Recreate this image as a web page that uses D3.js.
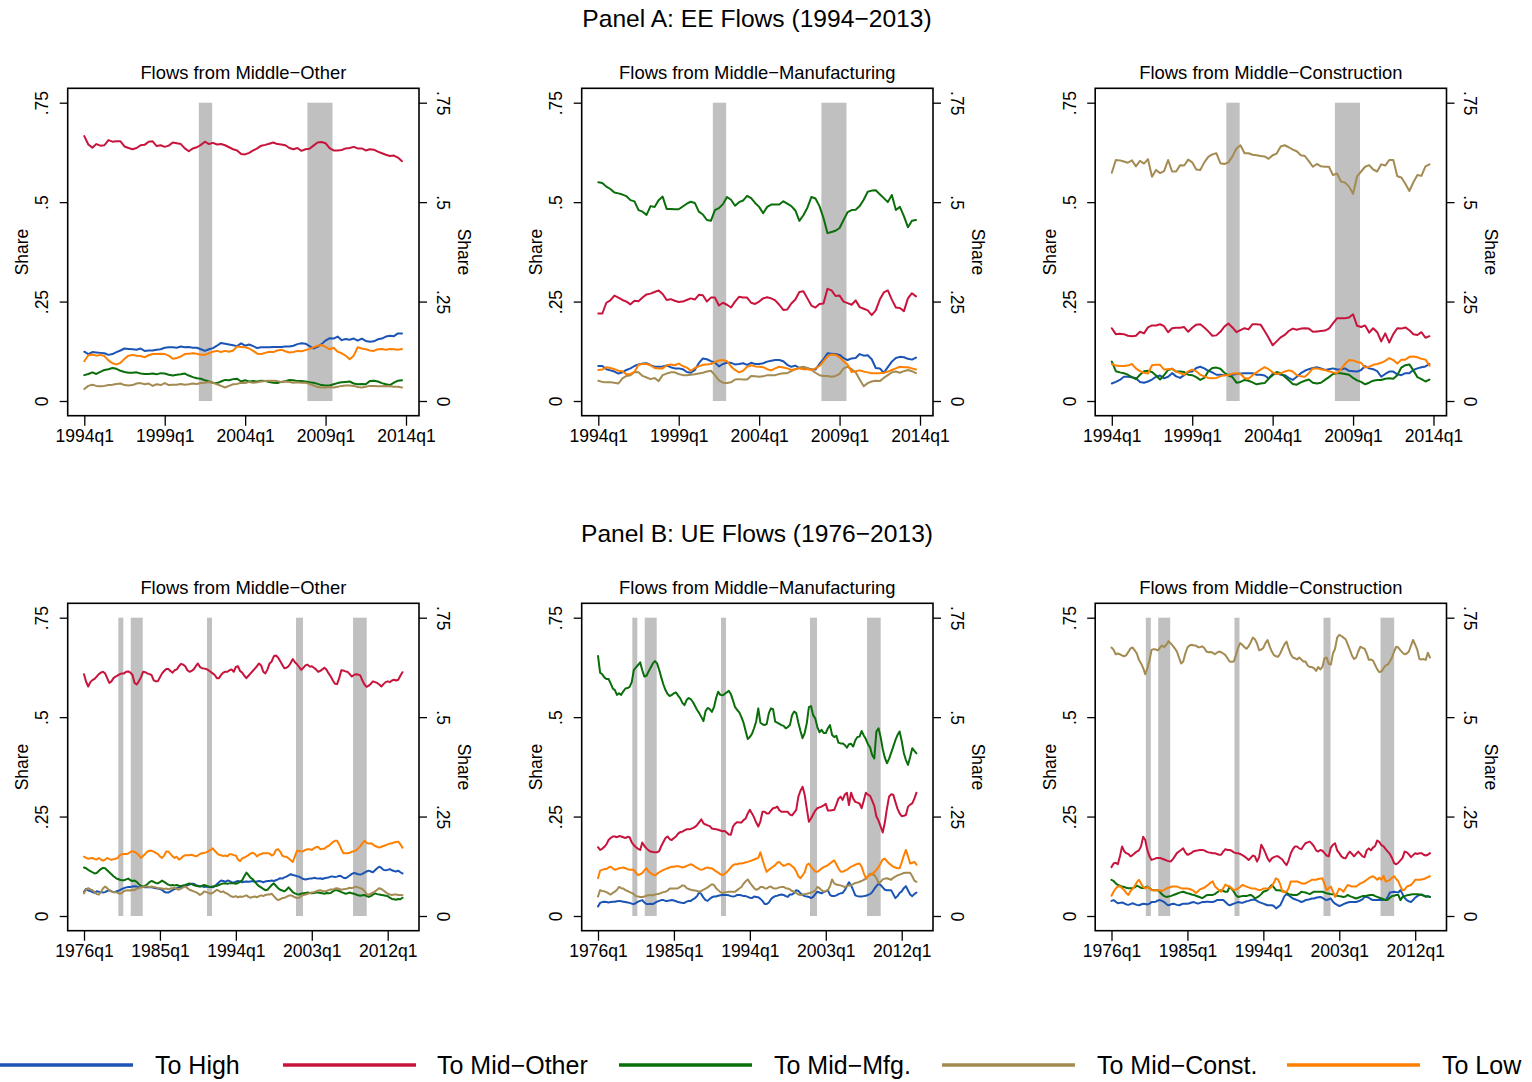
<!DOCTYPE html>
<html><head><meta charset="utf-8">
<script src="https://cdn.jsdelivr.net/npm/d3@7"></script>
<style>
body{margin:0;background:#fff}
svg{display:block}
text{font-family:"Liberation Sans",Arial,Helvetica,sans-serif;fill:#000}
</style>
</head><body>
<svg id="chart" width="1532" height="1082"></svg>
<script>
// ---------- labels ----------
const seriesNames = ["To High","To Mid\u2212Other","To Mid\u2212Mfg.","To Mid\u2212Const.","To Low"];
const seriesColors = ["#1a54b4","#c8143c","#0a6e0a","#a38b52","#ff8000"];
const panelTitles = ["Panel A: EE Flows (1994\u22122013)","Panel B: UE Flows (1976\u22122013)"];
const subTitles = ["Flows from Middle\u2212Other","Flows from Middle\u2212Manufacturing","Flows from Middle\u2212Construction"];
const yTicks = [0, 0.25, 0.5, 0.75];
const yTickLabels = ["0", ".25", ".5", ".75"];
const xTicksA = [1994, 1999, 2004, 2009, 2014];
const xTickLabelsA = ["1994q1","1999q1","2004q1","2009q1","2014q1"];
const xTicksB = [1976, 1985, 1994, 2003, 2012];
const xTickLabelsB = ["1976q1","1985q1","1994q1","2003q1","2012q1"];
const startA = 1994, startB = 1976;
const recessionsA = [[2001.12,2001.95],[2007.87,2009.43]];
const recessionsB = [[1980.07,1980.66],[1981.54,1982.96],[1990.58,1991.17],[2001.13,2001.96],[2007.89,2009.51]];

// ---------- Panel A data (percent, quarterly 1994q1-2013q4) ----------
const eeOtherHigh = [12.4,11.8,12.3,12.2,12.1,12.0,11.6,11.8,12.3,12.7,13.2,13.1,13.0,12.9,13.2,12.6,12.7,12.7,12.9,13.0,13.4,13.5,13.5,13.4,13.7,13.5,13.6,13.4,13.4,13.0,12.6,13.0,13.3,13.9,14.6,14.4,14.2,14.0,13.8,14.5,13.9,14.2,13.8,13.3,13.5,13.5,13.5,13.6,13.6,13.6,13.7,13.7,13.9,14.3,14.5,14.4,13.8,13.2,13.6,14.3,15.2,15.8,15.7,16.2,15.3,15.6,15.4,15.7,15.2,15.7,15.1,14.9,15.0,15.5,15.7,16.2,16.4,16.3,17.0,17.0];
const eeOtherMidOther = [66.6,64.5,63.7,64.6,64.2,64.3,65.6,65.2,65.3,65.3,64.0,63.6,63.3,63.6,64.3,64.4,65.2,65.3,64.1,64.3,63.9,64.2,65.0,64.8,64.6,63.5,62.8,63.5,63.8,64.4,65.2,64.6,64.9,64.5,64.6,64.3,63.8,63.3,63.0,62.1,62.0,62.4,63.0,63.5,64.2,64.4,64.7,65.0,64.6,64.5,64.3,63.6,63.3,63.6,62.9,63.3,63.4,64.2,65.0,65.1,64.8,63.6,63.0,63.0,63.1,63.5,63.6,63.9,63.5,63.5,63.0,63.3,63.2,62.7,62.3,61.9,61.6,61.7,61.2,60.3];
const eeOtherMidMfg = [6.5,6.8,7.2,6.8,7.3,7.8,8.0,8.3,8.1,7.6,7.3,7.1,7.1,7.2,6.9,6.8,6.8,6.9,6.7,7.0,6.9,6.6,6.4,6.6,6.7,6.9,6.4,6.0,5.7,5.6,5.2,4.9,4.6,4.5,4.9,5.3,5.2,5.5,5.6,4.9,5.2,4.9,5.0,4.9,5.1,5.0,4.8,4.6,4.5,4.8,5.0,5.3,5.2,5.0,5.0,4.9,4.7,4.6,4.3,4.0,3.9,3.9,4.2,4.5,4.7,4.8,4.9,4.4,4.2,4.3,4.2,5.0,5.1,4.9,4.5,4.2,4.0,4.6,5.1,5.2];
const eeOtherMidConst = [3.0,3.8,4.1,3.8,3.7,3.8,4.0,4.1,4.3,4.4,4.0,3.9,4.0,4.4,4.5,4.2,4.4,3.8,4.2,4.0,4.5,4.0,4.1,4.1,4.3,4.1,4.2,4.4,4.3,4.5,4.6,4.8,4.6,4.2,3.8,3.4,3.8,4.2,4.3,4.6,4.5,4.8,4.6,4.7,4.9,5.0,5.1,5.1,5.0,4.8,4.9,4.8,4.6,4.7,4.6,4.6,4.3,3.9,3.5,3.4,3.4,3.5,3.4,3.6,3.8,3.9,3.9,3.8,3.5,3.4,3.6,3.8,3.8,3.7,3.7,3.8,3.7,3.6,3.6,3.4];
const eeOtherLow = [10.0,11.5,11.7,11.4,11.6,11.3,10.2,9.5,9.2,9.6,10.6,11.4,11.6,11.4,11.3,11.0,11.5,11.8,11.8,11.9,11.8,11.4,10.6,10.8,11.2,11.8,11.9,12.0,11.9,11.6,11.6,12.0,12.4,12.6,12.3,12.6,12.4,12.7,13.7,13.6,13.5,13.2,12.6,11.9,11.8,12.1,12.4,12.3,12.7,12.9,12.5,12.2,12.3,12.6,12.5,12.8,13.1,13.5,13.9,14.1,13.6,13.0,13.4,12.4,12.0,11.4,10.5,11.4,13.5,13.2,13.0,12.7,12.6,13.0,13.1,12.9,13.1,13.0,12.9,13.1];

const eeMfgHigh = [8.8,8.8,8.0,7.7,7.4,6.9,7.2,7.8,8.2,8.8,9.2,9.4,9.5,9.0,8.6,8.6,8.7,8.9,8.5,8.2,8.2,8.0,7.3,7.1,7.8,9.5,10.7,10.5,10.0,9.7,8.7,9.3,9.6,9.6,9.2,9.3,9.5,9.1,9.6,9.3,9.3,9.5,9.9,10.1,10.3,10.3,10.0,9.1,8.6,8.9,8.3,8.2,8.2,8.0,7.9,9.3,10.5,12.0,11.9,11.8,11.6,10.8,10.3,10.7,10.8,11.8,11.4,11.5,10.5,8.3,8.2,7.1,8.5,9.9,10.8,11.1,11.0,10.6,10.4,10.9];
const eeMfgMidOther = [22.0,22.0,24.7,25.3,26.5,26.0,25.4,25.0,24.3,25.2,25.1,26.0,26.8,27.0,27.4,27.8,26.9,25.4,25.6,25.2,24.9,25.0,25.4,25.8,25.5,26.7,26.6,25.0,26.0,26.0,24.0,24.7,24.2,23.5,25.0,26.2,26.0,26.0,24.7,24.4,25.0,25.8,26.1,25.8,25.3,24.2,22.9,23.0,24.5,25.5,27.4,27.6,25.8,24.0,23.5,24.4,24.5,28.2,27.8,26.4,26.5,25.0,24.6,24.2,25.3,23.6,23.2,22.8,21.6,22.8,25.5,27.3,27.8,25.5,23.5,23.4,22.6,25.8,27.1,26.3];
const eeMfgMidMfg = [55.0,54.8,53.9,53.3,52.4,52.2,51.9,51.5,50.5,50.2,48.0,47.6,46.8,49.0,48.8,50.5,51.4,48.3,48.3,48.2,48.2,48.9,49.6,50.1,49.8,47.6,46.9,45.5,45.3,48.0,48.5,49.5,51.3,50.6,49.1,50.0,50.4,51.6,51.0,49.8,48.8,47.2,48.8,49.4,49.4,49.4,50.2,49.6,49.0,47.9,45.3,46.7,48.6,51.3,50.9,49.0,46.0,42.2,42.5,42.8,43.5,45.5,47.5,48.0,48.1,49.0,50.6,52.6,52.9,53.0,52.0,51.0,50.0,51.8,48.0,48.8,46.5,43.7,45.3,45.5];
const eeMfgMidConst = [5.1,4.8,4.7,4.7,4.6,4.4,5.7,6.3,6.5,7.3,7.2,6.3,5.9,5.5,5.8,5.0,6.5,6.9,7.2,7.2,6.8,6.5,6.5,6.6,6.7,6.9,7.1,7.4,7.6,6.5,5.2,4.6,4.5,4.7,5.4,5.5,5.4,5.4,6.3,6.2,6.1,6.2,6.5,6.5,6.5,6.8,7.0,7.0,7.5,8.0,8.4,8.6,8.3,7.8,7.1,6.5,6.3,6.3,6.1,6.3,6.8,8.2,8.6,8.0,7.2,5.4,3.7,4.5,4.9,5.1,5.0,5.8,6.5,7.2,7.4,7.1,7.5,7.8,7.5,7.0];
const eeMfgLow = [7.8,7.9,8.5,8.3,8.0,7.6,7.5,6.7,6.8,7.3,9.1,9.3,9.3,9.0,8.3,8.2,8.2,9.0,9.2,9.0,9.4,8.8,8.4,7.6,8.3,8.7,9.1,9.2,9.3,9.8,10.2,10.3,10.0,8.7,7.8,7.2,7.6,8.6,9.0,8.7,8.6,8.5,8.0,7.7,8.2,8.6,8.4,8.2,7.8,8.0,8.2,8.0,8.0,7.8,8.2,8.8,10.0,11.2,11.7,11.6,11.0,10.0,9.1,7.3,7.5,7.7,7.4,7.2,7.0,7.0,7.0,7.1,7.4,7.8,8.2,8.6,8.5,8.5,8.2,7.9];

const eeConHigh = [4.4,4.8,5.3,6.1,6.1,6.0,5.7,4.8,4.6,4.9,5.4,6.1,6.4,5.7,6.1,7.0,6.2,5.8,6.5,7.3,7.4,8.3,8.6,8.2,7.6,7.2,6.6,6.6,6.5,6.6,6.6,6.8,6.9,7.0,7.0,7.0,6.6,6.6,6.4,5.7,6.8,7.0,6.6,6.5,5.8,5.3,6.1,7.0,7.6,8.0,8.3,8.5,8.2,7.8,8.0,8.2,7.9,7.9,8.2,7.6,7.5,7.4,7.8,8.8,8.2,8.0,7.5,6.1,6.8,7.4,7.4,6.7,6.5,7.0,7.0,7.8,8.2,8.5,8.7,9.3];
const eeConMidOther = [18.3,16.8,16.9,16.8,16.4,16.3,16.4,17.4,17.0,18.5,19.0,19.0,19.3,18.8,17.3,18.3,18.4,18.4,18.6,17.4,18.4,19.2,19.3,18.5,17.5,16.4,16.5,17.4,18.7,19.5,18.5,17.3,17.8,18.3,18.0,19.3,19.3,19.2,17.6,15.9,14.0,15.0,16.0,16.6,17.6,18.2,17.9,18.2,18.3,18.2,17.4,17.5,17.6,17.7,18.2,19.5,20.8,20.8,20.8,21.0,21.8,18.9,18.6,19.0,17.2,18.3,17.3,15.0,17.0,14.7,16.8,18.3,18.2,18.5,17.8,16.8,16.6,17.3,15.9,16.3];
const eeConMidMfg = [9.9,7.5,7.2,7.0,6.6,6.0,5.5,6.6,7.5,7.6,7.3,6.4,5.4,6.5,7.8,8.1,7.4,7.4,7.3,6.6,6.5,6.0,5.3,5.8,7.5,8.3,8.4,8.1,7.1,6.4,6.0,4.6,4.8,5.3,5.1,4.7,4.2,4.4,4.5,5.6,6.5,7.3,7.0,6.1,5.2,4.3,4.1,4.7,5.1,5.4,4.6,4.4,4.6,5.3,6.0,6.8,7.0,7.0,6.8,6.6,5.8,5.2,4.8,4.2,4.6,5.1,5.3,5.3,5.6,5.7,5.6,6.5,8.4,9.0,9.2,7.7,6.0,5.5,4.9,5.4];
const eeConMidConst = [57.4,60.6,60.5,60.2,59.9,60.5,59.0,60.4,59.7,60.8,56.4,58.1,57.3,57.8,60.6,57.7,57.7,59.3,59.2,60.7,60.0,58.2,58.1,60.0,61.4,62.0,62.3,59.8,59.6,60.0,61.5,63.5,64.3,62.3,62.3,61.9,61.8,61.6,61.5,60.9,61.8,62.2,64.0,64.3,63.8,63.2,62.8,61.8,61.6,60.3,58.9,59.6,59.0,58.9,58.9,56.8,57.2,55.2,54.9,53.9,52.1,56.5,57.7,58.9,59.3,58.2,57.7,59.5,59.2,60.6,60.6,56.5,56.2,54.6,52.8,55.0,56.8,56.6,59.0,59.5];
const eeConLow = [9.3,8.9,8.8,8.8,8.9,9.3,8.2,7.5,7.1,6.9,9.0,9.1,9.1,7.9,8.0,8.1,7.4,7.0,6.6,7.5,7.9,7.5,6.6,6.2,5.8,5.7,5.8,6.2,6.5,6.5,6.9,7.0,6.8,5.8,5.6,6.5,7.2,7.9,8.5,8.0,7.2,6.8,7.0,7.4,7.7,7.4,6.5,6.2,6.1,7.0,8.2,8.2,8.0,7.8,7.5,7.2,7.0,8.0,9.3,10.3,10.2,9.8,9.6,8.4,8.6,9.1,9.3,9.6,10.1,10.8,10.3,9.4,10.4,10.4,11.1,11.2,11.0,10.6,10.4,8.9];

// ---------- Panel B data (percent, quarterly 1976q1-2013q4) ----------
const ueOtherHigh = [6.1,6.8,6.4,6.3,6.0,5.8,6.2,6.1,6.0,5.9,6.0,6.3,6.5,6.2,6.0,6.1,6.3,6.5,6.8,7.0,7.2,7.3,7.3,7.4,7.5,7.4,7.2,7.3,7.3,7.2,7.3,7.2,7.2,7.1,7.0,6.9,6.8,6.6,6.1,5.9,5.9,6.2,6.5,6.8,7.0,7.2,7.3,7.5,7.6,7.7,7.9,8.1,8.1,7.8,7.6,7.5,7.5,7.3,7.4,7.3,7.3,7.2,7.5,8.0,8.5,8.9,8.8,8.6,8.9,8.8,8.5,8.4,8.6,8.8,8.7,8.5,8.6,8.7,8.6,8.7,8.8,8.6,8.7,8.8,8.7,8.5,8.7,8.8,8.8,8.9,8.8,9.0,9.2,9.5,9.4,9.7,9.9,10.2,10.5,10.3,10.2,10.0,9.9,9.6,9.3,9.2,9.3,9.4,9.4,9.6,9.5,9.4,9.5,9.3,9.5,9.6,9.7,9.9,9.9,9.8,9.9,10.1,10.0,9.6,9.5,9.8,10.2,10.6,10.8,10.7,10.5,10.4,10.6,10.9,11.2,11.4,11.2,11.0,11.5,12.0,12.4,12.1,11.6,11.5,11.6,11.8,11.5,11.3,11.2,11.4,11.0,10.7];
const ueOtherMidOther = [60.8,58.9,57.7,58.8,59.3,59.6,60.2,60.8,61.2,61.4,61.0,59.8,58.6,59.0,59.8,60.2,60.5,60.8,61.0,61.0,61.4,61.5,61.2,60.6,58.6,58.2,59.0,60.0,61.4,61.3,61.0,60.8,60.6,59.3,59.0,59.0,60.0,61.0,61.6,62.1,62.1,61.6,61.2,61.8,62.0,62.8,63.4,63.2,62.8,61.8,61.4,61.6,62.0,62.8,63.5,62.6,62.3,62.2,62.1,61.8,61.4,61.0,60.6,59.8,59.8,60.6,61.2,61.4,61.4,61.8,62.0,61.4,62.6,62.8,61.6,61.2,60.4,59.8,60.4,61.0,61.6,62.2,62.8,63.5,63.0,61.4,61.0,62.0,63.5,64.0,65.3,65.5,65.0,64.1,63.2,62.3,62.4,62.8,63.6,64.6,63.8,63.3,62.6,61.9,62.4,63.0,63.2,62.7,62.8,62.4,62.0,61.4,61.6,62.0,62.4,61.9,61.0,60.2,59.2,58.4,58.3,59.8,61.8,61.7,61.5,61.4,60.8,60.2,60.6,60.8,60.7,60.5,59.2,58.2,57.6,57.9,58.4,59.0,58.8,58.6,58.2,57.7,58.3,58.8,59.0,58.8,59.2,59.4,59.2,59.4,60.4,61.3];
const ueOtherMidMfg = [12.2,12.0,11.6,11.3,11.0,10.7,10.8,11.3,11.8,12.1,12.0,11.5,11.0,10.5,10.0,9.6,9.3,9.1,9.0,9.0,9.2,9.4,9.0,8.8,8.9,8.6,8.0,7.6,7.4,7.6,8.0,8.5,8.8,8.6,8.3,8.2,8.5,8.9,8.6,8.2,7.9,7.7,7.8,7.7,7.8,7.6,7.5,7.7,7.8,8.0,8.2,8.0,7.8,7.6,7.5,7.4,7.6,7.8,7.6,7.4,7.3,7.4,7.5,7.6,7.8,8.0,8.2,8.2,8.1,8.2,8.3,8.2,8.1,8.3,8.6,9.0,10.0,10.9,10.3,9.6,9.3,8.6,8.0,7.5,7.2,6.8,6.5,6.6,7.2,7.8,8.2,7.6,7.0,6.6,6.4,6.2,6.6,7.2,6.6,6.0,5.7,5.5,5.4,5.6,5.7,5.8,5.9,5.8,5.7,5.8,5.9,5.9,5.8,5.7,5.6,5.8,5.7,5.8,6.2,6.5,6.5,6.3,6.0,5.8,5.6,5.7,5.9,5.7,5.6,5.4,5.2,5.1,5.2,5.3,5.0,4.8,5.0,5.4,5.7,5.5,5.4,5.3,5.2,5.1,5.0,4.6,4.3,4.2,4.1,4.3,4.2,4.6];
const ueOtherMidConst = [5.7,6.6,7.0,6.7,6.5,6.0,5.5,5.4,6.0,6.9,7.4,7.0,6.5,6.2,6.0,6.0,5.8,5.6,5.8,6.3,6.4,6.5,6.4,6.6,6.5,6.9,7.0,7.2,7.3,7.4,7.4,7.3,7.4,7.3,7.2,7.0,7.0,6.9,6.8,6.9,6.7,6.9,7.0,7.1,6.8,6.6,6.9,7.2,7.4,7.0,6.6,6.4,6.2,6.0,5.7,5.3,5.6,6.2,6.0,5.8,5.6,5.8,6.2,6.6,6.3,6.0,6.2,5.8,5.6,5.2,4.9,4.8,5.0,4.7,4.9,4.8,5.0,5.2,4.8,4.6,4.8,4.9,4.7,5.0,5.2,5.0,5.3,5.4,5.4,5.6,5.0,4.4,4.0,4.2,4.5,4.6,4.8,5.1,5.2,5.0,4.7,4.5,4.6,5.0,5.3,5.4,5.6,5.7,5.9,6.0,6.2,6.4,6.5,6.3,6.2,6.3,6.5,6.7,6.6,6.9,7.0,6.8,6.6,6.7,6.8,6.9,7.1,7.0,7.2,7.4,7.2,7.0,6.8,6.3,5.5,5.3,5.6,5.9,6.2,6.6,7.0,6.8,6.4,6.0,5.6,5.4,5.3,5.4,5.4,5.3,5.3,5.2];
const ueOtherLow = [14.9,14.6,14.4,14.5,14.6,14.3,14.2,14.6,14.2,13.9,14.2,14.6,14.3,14.1,14.3,14.4,14.6,15.3,15.5,15.6,15.6,15.7,16.1,16.3,16.1,15.8,15.3,14.6,15.1,15.6,16.2,16.4,16.4,16.2,15.9,15.6,15.0,14.6,15.2,16.2,16.2,15.6,15.0,14.6,14.9,14.2,14.5,15.0,15.3,15.3,15.3,15.4,15.2,15.0,15.2,15.6,15.8,15.9,16.0,16.3,16.6,17.0,16.4,15.8,15.4,15.3,15.1,15.2,15.0,15.5,15.5,15.3,15.2,14.2,13.8,14.5,14.7,15.0,15.3,15.7,15.9,15.6,15.0,15.4,15.6,15.8,15.8,15.8,15.7,15.2,15.5,16.6,16.8,16.2,15.2,14.9,14.9,14.5,14.0,13.6,15.0,16.4,16.4,16.2,16.3,16.6,16.8,16.8,16.6,17.0,17.3,17.4,16.8,16.9,16.9,17.4,17.6,18.1,18.6,18.9,18.9,18.0,16.8,15.8,15.8,15.8,15.9,16.2,16.3,16.5,17.0,17.5,18.3,18.9,18.4,18.2,18.3,18.0,17.6,17.4,17.2,17.4,17.6,17.8,18.0,18.2,18.3,18.5,18.6,18.7,18.0,17.2];

const ueMfgHigh = [2.4,3.3,3.5,3.6,3.5,3.4,3.5,3.6,3.6,3.7,3.8,3.7,3.6,3.5,3.4,3.3,3.1,3.0,3.3,3.6,3.8,4.0,3.4,3.0,3.0,3.1,3.0,3.3,3.6,3.8,4.0,4.0,3.8,3.8,3.9,4.0,3.9,3.7,3.5,3.4,3.3,3.3,3.6,3.8,3.8,4.2,4.5,5.0,6.0,5.5,4.6,4.0,3.8,4.3,4.7,4.9,4.9,5.1,5.2,5.3,5.3,5.3,5.2,5.0,4.9,5.0,5.3,5.3,5.2,5.0,5.0,4.8,4.6,4.5,4.9,4.8,4.7,4.3,3.8,3.0,3.0,3.4,4.2,4.7,5.0,5.1,5.3,5.4,5.3,5.0,4.8,5.4,5.4,5.8,6.5,6.3,5.7,5.3,5.0,4.9,4.8,4.5,4.8,5.5,6.1,5.9,5.7,6.0,6.2,6.5,5.3,5.0,5.0,5.2,5.5,5.7,5.8,6.5,7.5,8.5,7.7,6.5,5.2,5.0,4.9,4.9,5.0,5.1,5.3,5.5,6.0,6.8,7.5,8.1,7.8,7.2,6.6,6.5,6.5,6.5,5.5,4.5,5.0,5.8,6.2,7.0,7.5,6.4,5.4,5.0,5.5,5.9];
const ueMfgMidOther = [17.3,16.6,16.9,17.4,18.0,19.1,19.6,20.0,20.0,19.8,20.1,20.0,19.8,19.6,19.9,19.8,18.5,17.8,17.3,16.9,16.6,18.5,17.6,17.0,16.5,16.2,16.1,16.0,16.0,16.3,17.6,18.6,19.6,20.0,19.3,19.1,19.6,20.0,20.7,21.1,21.2,21.5,21.8,21.8,21.9,22.1,22.4,22.9,23.6,24.3,23.3,23.0,22.8,22.6,22.0,21.9,21.8,21.7,21.5,21.3,21.4,21.0,20.5,20.4,22.5,23.2,23.6,23.5,23.5,24.1,24.5,25.8,26.7,25.8,24.8,23.5,22.5,23.8,26.2,26.2,25.8,25.8,26.5,27.1,27.2,27.5,26.6,26.2,26.2,26.2,26.2,25.5,25.3,26.0,26.7,30.0,31.5,32.5,30.5,27.0,23.7,24.5,25.5,26.5,27.1,27.3,27.5,27.8,28.2,26.5,26.5,26.6,26.7,28.0,29.5,30.0,29.2,30.5,31.0,27.9,31.0,29.5,28.7,28.5,28.3,27.1,29.0,31.0,30.5,30.2,29.0,27.7,25.0,24.0,22.5,21.0,23.5,27.0,30.0,30.6,30.5,28.7,27.0,25.8,25.1,25.2,25.4,27.5,28.0,28.3,29.5,31.0];
const ueMfgMidMfg = [65.4,61.2,60.8,60.0,59.6,59.6,58.5,57.2,56.8,55.6,56.0,55.6,56.5,57.2,57.3,57.6,58.8,61.9,62.5,63.1,63.8,61.8,60.2,60.4,61.5,62.5,63.5,64.1,63.5,61.9,60.0,58.2,56.8,55.8,55.3,55.6,56.0,56.2,55.4,54.7,53.6,53.0,54.3,54.8,54.5,53.8,52.8,51.8,51.0,50.0,49.0,51.5,52.3,52.0,51.3,52.5,54.8,56.4,55.6,55.5,55.8,56.2,56.6,55.8,54.2,52.5,51.8,51.2,50.0,48.6,46.5,44.5,45.0,45.8,47.2,48.9,52.2,48.6,48.2,48.0,48.3,51.0,52.2,52.0,48.9,48.6,48.3,48.0,47.8,47.2,47.5,48.0,50.5,51.4,51.0,48.6,46.5,44.7,46.0,48.5,52.5,52.8,50.5,49.7,47.5,46.2,46.8,46.0,46.0,47.2,48.0,45.5,45.0,45.3,43.6,43.4,43.4,43.0,42.3,43.2,43.3,42.6,44.2,45.0,45.1,46.5,45.4,44.5,43.2,42.4,40.5,39.6,46.4,47.2,45.0,42.0,39.8,38.4,39.5,41.0,42.6,44.2,45.5,46.4,44.0,41.0,39.2,38.0,40.0,42.2,41.5,40.9];
const ueMfgMidConst = [4.9,6.5,6.3,6.2,6.0,5.7,5.4,5.8,6.1,6.6,7.3,7.0,6.9,6.5,6.3,6.0,5.8,5.5,5.0,4.9,4.8,4.8,4.9,5.1,5.2,5.3,5.2,5.4,5.5,5.6,5.8,6.0,6.1,6.4,6.9,6.9,6.9,6.9,7.0,7.3,7.7,7.6,7.0,6.8,6.6,6.5,6.4,6.3,6.1,6.3,6.6,6.9,7.2,7.6,8.0,7.8,7.0,6.5,6.0,5.8,5.9,6.0,6.1,6.1,6.1,6.1,6.5,6.9,7.3,8.1,8.7,9.2,8.4,7.7,7.0,6.6,6.8,7.3,7.3,7.0,6.9,7.3,7.4,7.0,6.9,7.0,7.2,7.3,7.3,7.0,6.9,6.7,6.3,6.1,5.8,5.4,5.3,5.4,5.5,5.6,5.7,5.9,6.1,6.4,7.3,7.0,6.5,6.1,6.3,6.5,7.5,9.2,8.2,7.9,7.8,7.7,7.5,7.3,7.5,7.7,7.7,8.0,8.3,8.4,8.6,8.8,9.1,9.3,10.0,10.6,10.5,10.3,9.5,8.3,8.6,9.2,9.4,9.5,9.3,9.1,9.6,9.9,10.2,10.4,10.6,10.8,10.9,10.9,10.9,10.0,8.9,8.6];
const ueMfgLow = [9.5,11.4,11.6,11.8,11.8,12.2,12.4,12.0,11.6,11.8,12.0,12.1,12.2,12.0,11.8,11.6,11.6,11.6,10.8,10.3,10.5,10.8,11.5,12.0,11.2,10.8,10.4,10.2,10.6,11.0,11.3,11.6,11.8,12.0,12.2,12.4,12.4,12.5,12.5,12.4,12.2,12.3,12.6,12.8,13.0,12.8,12.4,12.1,11.8,11.6,11.8,12.1,12.2,12.0,12.0,11.6,11.2,10.9,10.5,10.3,10.6,11.0,11.6,12.2,12.8,13.0,13.0,13.2,13.2,13.3,13.5,13.6,13.8,14.0,14.2,14.4,14.6,16.0,14.2,12.5,11.1,11.6,12.0,12.4,12.8,13.4,13.6,13.0,12.6,12.8,13.1,13.0,12.5,12.1,11.2,10.0,9.5,10.2,11.0,12.8,13.2,12.4,11.8,11.2,11.1,11.5,11.9,12.3,12.5,12.8,13.2,13.6,14.0,13.0,12.0,11.2,11.1,11.4,11.6,12.0,12.4,12.6,12.9,13.1,13.2,12.4,10.8,9.5,10.0,10.3,10.6,11.0,11.6,12.3,13.2,14.2,14.4,13.8,13.2,12.8,12.4,12.2,12.0,12.0,13.5,15.2,16.6,15.0,13.2,13.4,13.6,12.9];

const ueConHigh = [3.8,4.0,3.6,3.2,3.3,3.4,3.2,2.9,2.8,3.0,3.2,3.0,2.8,2.7,2.9,3.1,3.0,2.9,3.1,3.5,3.5,3.6,3.9,4.0,3.8,3.5,3.0,2.7,2.9,3.1,3.0,2.8,2.7,2.9,3.1,3.1,3.1,3.2,3.4,3.5,3.3,3.1,3.3,3.5,3.5,3.6,3.6,3.5,3.5,3.7,4.0,4.0,4.0,4.0,3.5,3.0,2.7,2.9,3.1,3.3,3.5,3.4,3.3,3.5,3.7,3.8,4.0,4.1,4.1,3.8,3.5,3.3,3.1,2.9,2.7,2.7,2.7,2.5,1.9,2.3,2.7,3.8,5.0,5.5,5.2,4.8,4.4,4.2,4.0,3.8,3.5,3.7,4.0,4.1,4.2,4.4,4.4,4.6,4.7,4.8,4.6,4.2,4.0,4.2,4.4,3.6,3.1,2.8,2.5,2.7,3.0,3.2,3.4,3.5,3.5,3.5,3.5,3.7,3.9,4.2,4.8,4.8,4.6,4.2,4.0,4.0,4.0,4.0,4.0,4.0,4.0,4.8,5.9,6.0,6.1,6.0,5.9,6.5,5.5,4.5,4.0,3.7,3.5,4.0,4.6,5.0,5.3,5.4,5.2,4.8,5.0,4.8];
const ueConMidOther = [12.3,13.2,13.4,13.0,15.0,17.5,16.3,15.8,15.6,15.0,15.3,15.8,16.2,16.5,17.5,19.9,19.1,16.6,15.0,14.1,14.3,14.5,14.6,14.6,14.4,14.2,14.0,13.8,13.7,14.2,15.0,15.8,16.2,16.6,17.0,16.0,15.4,15.6,15.9,16.3,16.4,16.5,16.6,16.6,16.5,16.2,16.0,15.9,15.8,15.8,15.6,15.4,15.4,16.2,16.8,16.6,16.6,16.4,16.0,15.8,15.8,15.6,15.3,15.0,14.6,14.1,14.6,15.2,15.0,13.7,14.8,17.9,17.0,15.8,14.5,13.7,14.5,14.8,15.0,15.0,14.6,14.2,13.4,12.8,14.0,15.8,16.8,17.5,17.5,17.0,16.8,17.6,18.3,18.5,18.7,18.2,17.5,16.5,16.2,16.6,16.4,15.8,15.2,15.0,17.2,17.9,18.3,16.5,15.8,15.0,14.6,14.5,15.5,16.2,15.6,15.0,15.6,16.2,15.6,15.0,14.8,16.5,17.0,16.5,17.2,17.6,19.0,18.6,17.8,17.5,16.8,16.2,15.6,14.6,13.3,13.0,13.4,14.0,14.6,16.2,16.0,15.5,14.8,15.3,15.8,15.6,15.8,15.8,15.4,15.2,15.4,15.8];
const ueConMidMfg = [9.1,8.8,8.2,7.8,7.6,7.4,7.3,7.1,7.0,7.0,7.0,7.2,7.6,7.4,7.1,7.0,7.2,7.4,7.0,6.6,6.5,6.5,6.5,6.0,5.4,5.0,4.8,4.9,5.0,5.2,5.4,5.6,5.8,6.0,6.1,5.9,5.7,5.6,5.4,5.3,5.1,4.9,4.7,4.5,4.8,5.2,5.3,5.3,5.3,5.5,5.9,6.3,6.5,6.3,6.1,6.1,7.4,6.8,6.1,5.2,4.8,4.9,5.0,5.0,5.0,5.2,5.3,5.0,4.4,4.7,5.0,5.5,6.1,6.3,6.5,7.2,7.8,7.2,6.5,6.5,6.4,6.3,6.1,5.8,5.5,5.4,5.3,5.3,5.3,5.6,6.1,6.0,5.9,5.7,5.5,5.8,6.1,6.1,6.1,6.1,6.1,5.9,5.7,5.6,5.5,5.5,5.3,5.1,5.0,4.9,4.8,4.9,5.3,5.0,4.8,4.6,4.4,4.6,4.8,5.0,5.0,5.1,5.2,5.3,5.3,5.0,4.8,4.6,4.4,4.2,4.0,4.1,4.6,5.0,5.1,5.3,5.3,4.0,4.8,5.0,5.2,5.3,5.4,5.5,5.5,5.5,5.4,5.3,5.1,5.0,4.9,4.8];
const ueConMidConst = [67.5,66.9,65.8,66.0,65.8,65.5,65.3,65.6,66.4,67.3,67.5,66.8,66.0,64.4,63.5,62.4,60.8,62.3,64.3,66.9,67.1,67.0,66.8,67.5,68.0,67.6,68.2,69.1,68.6,68.0,67.3,66.5,65.0,63.5,64.0,66.0,67.5,68.0,68.2,68.0,68.0,67.6,67.6,67.8,67.4,66.5,66.3,66.4,66.2,65.8,66.2,66.5,66.3,66.0,65.6,64.8,64.0,63.9,64.0,65.6,67.4,68.6,68.2,67.6,67.2,67.8,68.8,70.0,69.6,68.5,66.8,67.0,67.4,68.6,69.4,67.8,66.5,65.6,65.3,65.2,66.0,67.2,68.3,69.0,67.2,65.8,65.0,64.8,64.5,65.0,64.5,64.0,64.0,63.0,62.6,62.6,62.3,61.6,62.6,62.0,62.6,64.8,65.0,63.4,63.2,66.0,67.2,70.0,70.7,70.4,70.0,69.6,68.3,67.0,65.5,64.6,65.0,66.5,67.7,67.4,67.2,66.0,64.4,64.5,64.2,63.1,62.0,61.3,61.5,62.3,63.0,63.2,64.0,65.0,66.5,67.7,67.5,66.8,66.2,65.8,66.0,66.5,68.0,69.4,68.2,66.9,64.6,64.5,64.6,64.4,66.2,65.0];
const ueConLow = [5.1,6.1,6.9,7.4,7.5,7.0,6.5,5.8,5.3,6.3,6.8,7.5,8.5,9.1,8.2,7.3,6.9,7.3,7.0,6.5,6.5,6.5,6.5,6.4,6.3,6.6,6.9,7.1,7.3,7.4,7.4,7.4,7.2,7.0,6.9,6.9,6.9,6.8,6.6,6.3,5.8,6.2,6.7,6.9,7.1,7.5,7.9,8.4,8.7,7.5,7.0,6.5,6.1,7.0,7.9,7.6,7.4,7.0,6.5,6.7,6.9,7.3,7.8,7.6,7.4,7.2,7.0,6.9,6.9,6.7,6.5,6.6,6.9,6.9,6.9,6.9,7.4,8.4,9.5,9.1,8.0,6.1,6.1,6.1,7.0,8.7,8.7,8.7,8.7,8.5,8.2,8.2,8.2,8.5,8.8,9.1,9.1,9.1,9.3,9.4,9.5,8.0,6.5,7.0,7.4,6.1,4.8,5.8,6.9,6.6,6.1,7.0,7.8,7.6,7.4,7.4,7.4,7.8,8.2,8.4,8.7,9.1,9.5,9.8,10.0,9.6,9.1,9.6,9.1,10.1,8.7,8.8,9.1,9.6,10.0,9.3,8.7,7.4,6.5,6.6,7.4,7.6,7.8,8.4,9.1,9.1,9.1,9.2,9.3,9.5,9.8,10.0];

// ---------- layout ----------
const W = 1532, H = 1082;
const colLeft = [67.7, 581.7, 1095.2];
const rowTop = [88.3, 603.3];
const FW = 351.3, FH = 327.4;
const FONT = '"Liberation Sans",Arial,Helvetica,sans-serif';
const FS = 17.5;
const FS_SUB = 18.4;
const FS_TITLE = 24.6;
const FS_LEG = 25;

const rows = [
  { title: panelTitles[0], start: startA, xDomain:[1994,2014], xRange:[16.6,338.3], ticks:xTicksA, tickLabels:xTickLabelsA, rec:recessionsA,
    panels: [[eeOtherHigh,eeOtherMidOther,eeOtherMidMfg,eeOtherMidConst,eeOtherLow],
             [eeMfgHigh,eeMfgMidOther,eeMfgMidMfg,eeMfgMidConst,eeMfgLow],
             [eeConHigh,eeConMidOther,eeConMidMfg,eeConMidConst,eeConLow]] },
  { title: panelTitles[1], start: startB, xDomain:[1976,2012], xRange:[16.3,320.0], ticks:xTicksB, tickLabels:xTickLabelsB, rec:recessionsB,
    panels: [[ueOtherHigh,ueOtherMidOther,ueOtherMidMfg,ueOtherMidConst,ueOtherLow],
             [ueMfgHigh,ueMfgMidOther,ueMfgMidMfg,ueMfgMidConst,ueMfgLow],
             [ueConHigh,ueConMidOther,ueConMidMfg,ueConMidConst,ueConLow]] }
];

const svg = d3.select("#chart");
svg.append("rect").attr("width",W).attr("height",H).attr("fill","#fff");

rows.forEach((row, r) => {
  const T = rowTop[r];
  svg.append("text").attr("x", 757).attr("y", T - 61.8).attr("text-anchor","middle")
     .attr("font-size", FS_TITLE).attr("font-family", FONT).text(row.title);

  row.panels.forEach((series, c) => {
    const L = colLeft[c];
    const x = d3.scaleLinear().domain(row.xDomain).range(row.xRange.map(v => L + v));
    const y = d3.scaleLinear().domain([0, 0.75]).range([T + 312.7, T + 14.4]);
    const g = svg.append("g");

    g.append("text").attr("x", L + FW/2).attr("y", T - 9.4).attr("text-anchor","middle")
      .attr("font-size", FS_SUB).attr("font-family", FONT).text(subTitles[c]);

    g.selectAll("rect.rec").data(row.rec).join("rect").attr("class","rec")
      .attr("x", d => x(d[0])).attr("width", d => x(d[1]) - x(d[0]))
      .attr("y", y(0.75)).attr("height", y(0) - y(0.75)).attr("fill", "#c0c0c0");

    const line = d3.line().x((d,i) => x(row.start + i/4)).y(d => y(d/100));
    series.forEach((s, k) => {
      g.append("path").datum(s).attr("d", line).attr("fill","none")
        .attr("stroke", seriesColors[k]).attr("stroke-width", 2)
        .attr("stroke-linejoin","round").attr("stroke-linecap","round");
    });

    g.append("rect").attr("x", L).attr("y", T).attr("width", FW).attr("height", FH)
      .attr("fill","none").attr("stroke","#000").attr("stroke-width", 1.6);

    const fmt = d => yTickLabels[yTicks.indexOf(d)];
    const axL = g.append("g").attr("transform", `translate(${L},0)`)
      .call(d3.axisLeft(y).tickValues(yTicks).tickSize(8).tickFormat(fmt));
    const axR = g.append("g").attr("transform", `translate(${L+FW},0)`)
      .call(d3.axisRight(y).tickValues(yTicks).tickSize(8).tickFormat(fmt));
    const axB = g.append("g").attr("transform", `translate(0,${T+FH})`)
      .call(d3.axisBottom(x).tickValues(row.ticks).tickSize(10)
        .tickFormat(d => row.tickLabels[row.ticks.indexOf(d)]));
    [axL, axR, axB].forEach(a => {
      a.attr("font-size", FS).attr("font-family", FONT);
      a.select(".domain").remove();
      a.selectAll("line").attr("stroke","#000").attr("stroke-width",1.3);
      a.selectAll("text").attr("fill","#000");
    });
    axL.selectAll("text").attr("x",0).attr("y",0).attr("dy",null).attr("text-anchor","middle")
      .attr("transform","translate(-19.4,0) rotate(-90)");
    axR.selectAll("text").attr("x",0).attr("y",0).attr("dy",null).attr("text-anchor","middle")
      .attr("transform","translate(17.7,0) rotate(90)");
    axB.selectAll("text").attr("y", 26.8).attr("dy", null);

    g.append("text").attr("transform", `translate(${L-39.4},${T+FH/2}) rotate(-90)`)
      .attr("text-anchor","middle").attr("font-size", FS).attr("font-family", FONT).text("Share");
    g.append("text").attr("transform", `translate(${L+FW+38.5},${T+FH/2}) rotate(90)`)
      .attr("text-anchor","middle").attr("font-size", FS).attr("font-family", FONT).text("Share");
  });
});

// ---------- legend ----------
const legLineX = [0, 283, 619, 942, 1287];
const legTextX = [155, 437, 774, 1097, 1442];
const legY = 1065;
const leg = svg.append("g");
seriesNames.forEach((name, k) => {
  leg.append("line").attr("x1", legLineX[k]).attr("x2", legLineX[k] + 133)
    .attr("y1", legY).attr("y2", legY).attr("stroke", seriesColors[k]).attr("stroke-width", 3.5);
  leg.append("text").attr("x", legTextX[k]).attr("y", legY + 9).attr("font-size", FS_LEG)
    .attr("font-family", FONT).text(name);
});
</script>
</body></html>
